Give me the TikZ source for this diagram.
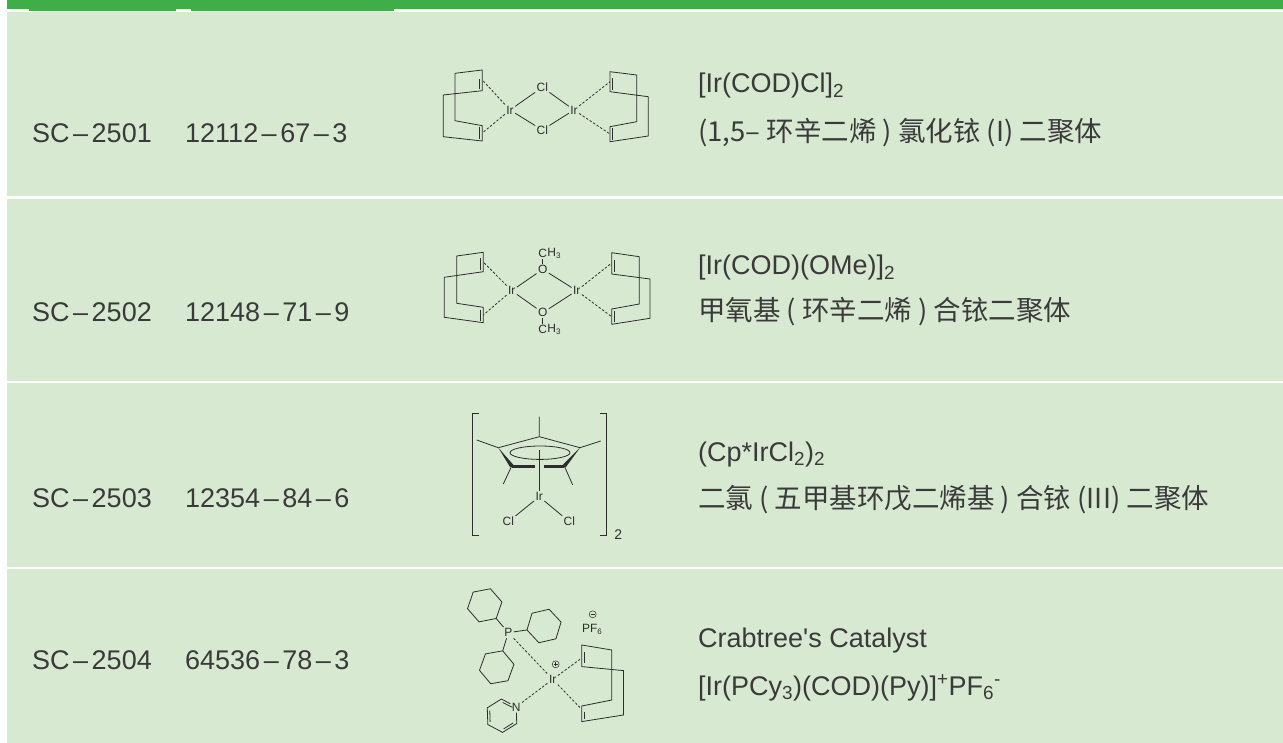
\documentclass[tikz,border=0pt]{standalone}
\usepackage{fontspec}
\setmainfont{Liberation Sans}
\newfontfamily\cjk{Noto Sans CJK SC}
\definecolor{barGreen}{RGB}{63,174,73}
\definecolor{rowGreen}{RGB}{216,233,210}
\definecolor{inkGray}{RGB}{58,58,58}
\definecolor{bondGray}{RGB}{45,45,45}
\newcommand{\idash}{\kern.13em–\kern.13em}

\begin{document}
\begin{tikzpicture}[x=1pt,y=-1pt,
        idtext/.style={anchor=base west,inner sep=0,text=inkGray,font=\fontsize{27}{30}\selectfont},
        nametext/.style={anchor=base west,inner sep=0,text=inkGray,font=\cjk\fontsize{27.5}{30}\selectfont},
        atom/.style={inner sep=1.3pt,text=bondGray,font=\fontsize{12}{13}\selectfont},
        bond/.style={draw=bondGray,line width=0.8pt},
        dbond/.style={bond,dash pattern=on 2.4pt off 1.8pt},
        charge/.style={circle,draw=bondGray,line width=0.5pt,minimum size=7pt,inner sep=0}
    ]
        \useasboundingbox (0,0) rectangle (1283,743);
        \fill[white] (0,0) rectangle (1283,743);
        \fill[barGreen] (7,0) rectangle (1283,9.3);
        \fill[barGreen] (29,9) rectangle (176,11);
        \fill[barGreen] (191,9) rectangle (394,11);
        \fill[rowGreen] (7,12.3) rectangle (1283,196);
        \fill[rowGreen] (7,199) rectangle (1283,381);
        \fill[rowGreen] (7,383) rectangle (1283,566.7);
        \fill[rowGreen] (7,569) rectangle (1283,743);

        \node[idtext] (id1) at (32,143) {SC\idash 2501};
        \node[idtext] (cas1) at (185,143) {12112\idash 67\idash 3};
        \node[idtext] (f1) at (698,93) {[Ir(COD)Cl]\textsubscript{2}};
        \node[nametext] (n1) at (698,142) {(1,5– 环辛二烯 ) 氯化铱 (I) 二聚体};

        \node[idtext] (id2) at (32,322) {SC\idash 2502};
        \node[idtext] (cas2) at (185,322) {12148\idash 71\idash 9};
        \node[idtext] (f2) at (698,275) {[Ir(COD)(OMe)]\textsubscript{2}};
        \node[nametext] (n2) at (698,321) {甲氧基 ( 环辛二烯 ) 合铱二聚体};

        \node[idtext] (id3) at (32,507) {SC\idash 2503};
        \node[idtext] (cas3) at (185,507) {12354\idash 84\idash 6};
        \node[idtext] (f3) at (698,461) {(Cp*IrCl\textsubscript{2})\textsubscript{2}};
        \node[nametext] (n3) at (698,508) {二氯 ( 五甲基环戊二烯基 ) 合铱 (III) 二聚体};

        \node[idtext] (id4) at (32,669) {SC\idash 2504};
        \node[idtext] (cas4) at (185,669) {64536\idash 78\idash 3};
        \node[idtext] (f4) at (698,647) {Crabtree\textquotesingle s Catalyst};
        \node[idtext] (n4) at (698,695) {[Ir(PCy\textsubscript{3})(COD)(Py)]\textsuperscript{+}PF\textsubscript{6}\textsuperscript{-}};

        \node[atom] (IrA) at (510,110) {Ir};
        \node[atom] (ClA) at (542.3,87.3) {Cl};
        \node[atom] (ClB) at (542.3,130) {Cl};
        \node[atom] (IrB) at (574,110) {Ir};
        \draw[bond] (IrA) -- (ClA) -- (IrB) -- (ClB) -- (IrA);
        \draw[bond] (455,73.3) -- (482.3,70) -- (482.3,90.7) -- (443.3,95) -- (443.3,136.7) -- (482.3,141) -- (482.3,125.7) -- (455,120.7) -- cycle;
        \draw[bond] (479.3,79.3) -- (479.3,89.3) (479.3,127) -- (479.3,139.5);
        \draw[bond] (610,71.7) -- (636.7,75) -- (636.7,121.7) -- (610,126.7) -- (610,141.7) -- (648.3,136) -- (648.3,96.7) -- (610,91.7) -- cycle;
        \draw[bond] (612.7,78.3) -- (612.7,90) (612.7,128.3) -- (612.7,140);
        \coordinate (dA1) at (482.3,80);
        \coordinate (dA2) at (482.3,133);
        \coordinate (dB1) at (610,81.7);
        \coordinate (dB2) at (610,134);
        \draw[dbond] (IrA) -- (dA1) (IrA) -- (dA2) (IrB) -- (dB1) (IrB) -- (dB2);

        \node[atom] (IrC) at (511.7,290.7) {Ir};
        \node[atom] (OA) at (542.7,269.3) {O};
        \node[atom] (OB) at (542.7,312.7) {O};
        \node[atom] (IrD) at (576.7,290.7) {Ir};
        \node[atom] (CA) at (542.7,253.3) {C};
        \node[atom,anchor=west,inner sep=0] (HA) at ([xshift=-1.3]CA.east) {H\textsubscript{3}};
        \node[atom] (CB) at (542.7,329.3) {C};
        \node[atom,anchor=west,inner sep=0] (HB) at ([xshift=-1.3]CB.east) {H\textsubscript{3}};
        \draw[bond] (IrC) -- (OA) -- (IrD) -- (OB) -- (IrC);
        \draw[bond] (OA) -- (CA) (OB) -- (CB);
        \draw[bond] (456.7,256) -- (483.3,252.3) -- (483.3,271.7) -- (444.3,277.3) -- (444.3,317.3) -- (483.3,322.7) -- (483.3,307.3) -- (456.7,303.3) -- cycle;
        \draw[bond] (480,258.3) -- (480,270) (480,310) -- (480,320.7);
        \draw[bond] (611.7,252.7) -- (639.3,256.7) -- (639.3,304) -- (611.7,309) -- (611.7,324.3) -- (650,318.3) -- (650,279) -- (611.7,274) -- cycle;
        \draw[bond] (614.3,260) -- (614.3,271.7) (614.3,310.7) -- (614.3,321.7);
        \coordinate (dC1) at (483.3,262);
        \coordinate (dC2) at (483.3,315);
        \coordinate (dD1) at (611.7,263);
        \coordinate (dD2) at (611.7,316.7);
        \draw[dbond] (IrC) -- (dC1) (IrC) -- (dC2) (IrD) -- (dD1) (IrD) -- (dD2);

        \draw[bond] (479.3,413.3) -- (472.7,413.3) -- (472.7,535) -- (479.3,535);
        \draw[bond] (600,413.3) -- (606.7,413.3) -- (606.7,535) -- (600,535);
        \node[atom,font=\fontsize{14}{15}\selectfont] (Two) at (618.3,535) {2};
        \coordinate (CpT) at (539.3,436.7);
        \coordinate (CpL) at (498.3,447.7);
        \coordinate (CpR) at (580,447.7);
        \coordinate (CpBL) at (511.7,466);
        \coordinate (CpBR) at (564.3,466);
        \coordinate (MeT) at (539.3,416.7);
        \coordinate (MeL) at (476.7,440);
        \coordinate (MeR) at (600.7,441);
        \coordinate (MeBL) at (503.3,484);
        \coordinate (MeBR) at (572.7,485);
        \draw[bond] (CpL) -- (CpT) -- (CpR);
        \draw[bond] (CpT) -- (MeT) (CpL) -- (MeL) (CpR) -- (MeR) (CpBL) -- (MeBL) (CpBR) -- (MeBR);
        \fill[bondGray] (498.3,447.7) -- (513.3,464.8) -- (510.1,467.2) -- cycle;
        \fill[bondGray] (580,447.7) -- (565.8,467.3) -- (562.8,464.7) -- cycle;
        \draw[bondGray,line width=3pt] (511.7,466) -- (535,466) (543.5,466) -- (564.3,466);
        \draw[bond] (540,452.7) ellipse [x radius=30, y radius=6.7];
        \node[atom] (IrE) at (539.3,496.7) {Ir};
        \node[atom] (ClC) at (508.3,521.7) {Cl};
        \node[atom] (ClD) at (569.3,521.7) {Cl};
        \coordinate (CpM) at (539.3,450);
        \draw[bond] (CpM) -- (IrE);
        \draw[bond] (ClC) -- (IrE) -- (ClD);

        \node[atom] (P) at (508.3,632.7) {P};
        \node[atom] (IrF) at (552.7,679.3) {Ir};
        \node[atom] (N) at (516.2,706.9) {N};
        \node[atom] (PF) at (592.3,629.3) {PF\textsubscript{6}};
        \node[charge] (Plus) at (555.7,664.3) {};
        \node[charge] (Minus) at (592.7,614.3) {};
        \draw[bond,line width=0.5pt] ([xshift=-2]Plus.center) -- ([xshift=2]Plus.center) ([yshift=-2]Plus.center) -- ([yshift=2]Plus.center);
        \draw[bond,line width=0.5pt] ([xshift=-2]Minus.center) -- ([xshift=2]Minus.center);
        \coordinate (CyA) at (484.7,605.3);
        \coordinate (CyB) at (544,626);
        \coordinate (CyC) at (496.7,667.3);
        \foreach \c/\a in {CyA/49,CyB/167,CyC/-70} {
            \draw[bond] ([shift={(\a:17.5)}]\c) \foreach \k in {1,...,5} {-- ([shift={(\a+60*\k:17.5)}]\c)} -- cycle;
            \draw[bond] (P) -- ([shift={(\a:17.5)}]\c);
        }
        \coordinate (PyC) at (502,715.7);
        \draw[bond] (N) -- ([shift={(28:16.7)}]PyC) -- ([shift={(88:16.7)}]PyC) -- ([shift={(148:16.7)}]PyC) -- ([shift={(208:16.7)}]PyC) -- ([shift={(268:16.7)}]PyC) -- (N);
        \draw[bond] ([shift={(273:13.3)}]PyC) -- ([shift={(321:13.3)}]PyC) ([shift={(153:13.3)}]PyC) -- ([shift={(203:13.3)}]PyC) ([shift={(33:13.3)}]PyC) -- ([shift={(83:13.3)}]PyC);
        \draw[bond] (581.7,645) -- (611.7,650) -- (611.7,700) -- (581.7,706) -- (581.7,721.6) -- (623.4,715) -- (623.4,670.6) -- (581.7,666.6) -- cycle;
        \draw[bond] (584.4,651.6) -- (584.4,663.3) (584.4,711.6) -- (584.4,719.3);
        \coordinate (dF1) at (580,659.3);
        \coordinate (dF2) at (580.7,708.3);
        \draw[dbond] (P) -- (IrF) (N) -- (IrF) (IrF) -- (dF1) (IrF) -- (dF2);
    \end{tikzpicture}
\end{document}
